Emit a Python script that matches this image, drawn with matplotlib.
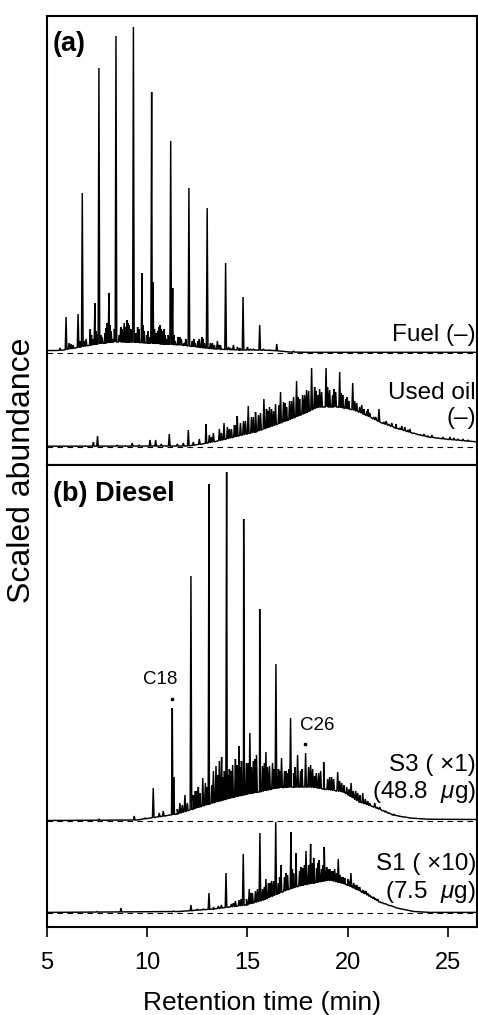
import numpy as np
import matplotlib
matplotlib.use("Agg")
import matplotlib.pyplot as plt

plt.rcParams["font.family"] = ["Liberation Sans", "DejaVu Sans"]
plt.rcParams["mathtext.fontset"] = "custom"
plt.rcParams["mathtext.rm"] = "Liberation Sans"
plt.rcParams["mathtext.it"] = "Liberation Sans:italic"

# ---- (a) Fuel: envelope of the unresolved hump, major and minor peaks (min, abundance)
fuel_env_t = [5.0, 5.5, 5.85, 6.66, 7.5, 8.33, 9.16, 10.0, 10.8, 11.65, 12.48, 13.3, 14.63, 15.5, 16.3, 17.1, 18.0, 26.5]
fuel_env_h = [2.5, 2.5, 3, 6, 9, 11, 11, 10, 9, 8, 6, 4, 3, 3, 2.5, 1, 0.7, 0.7]
fuel_pk_t = [5.65, 5.95, 6.1, 6.3, 6.55, 6.65, 6.76, 6.95, 7.16, 7.28, 7.39, 7.48, 7.59, 7.75,
             7.9, 8.0, 8.09, 8.2, 8.3, 8.44, 8.6, 8.75, 8.85, 8.99, 9.1, 9.31, 9.45, 9.58,
             9.74, 9.85, 10.0, 10.1, 10.22, 10.29, 10.45, 10.6, 10.7, 10.8, 10.9, 11.0,
             11.17, 11.27, 11.4, 11.55, 11.7, 11.85, 12.08, 12.25, 12.4, 12.6, 12.73, 12.85,
             12.99, 13.15, 13.35, 13.5, 13.65, 13.91, 14.05, 14.3, 14.5, 14.78, 15.0, 15.3,
             15.61, 15.8, 16.1, 16.46, 17.3]
fuel_pk_h = [5, 36, 10, 8, 39, 12, 160, 14, 24, 14, 50, 18, 285, 16,
             20, 30, 60, 22, 14, 317, 18, 24, 30, 33, 28, 326, 20, 24,
             80, 22, 18, 16, 261, 71, 20, 26, 24, 22, 18, 14,
             212, 65, 12, 16, 14, 10, 165, 12, 10, 14, 16, 10,
             145, 10, 8, 12, 8, 90, 6, 8, 6, 56, 6, 4,
             28, 4, 3, 9, 2]
fuel_minor_t = [6.2, 6.85, 7.22, 7.44, 7.68, 7.95, 8.15, 8.36, 8.68, 8.93, 9.05, 9.18, 9.52,
                9.8, 10.05, 10.36, 10.52, 10.65, 10.85, 11.05, 11.33, 11.62, 11.92, 12.32,
                12.54, 12.79, 13.25, 13.58, 14.15, 14.62, 15.15]
fuel_minor_h = [9, 12, 18, 22, 18, 25, 28, 24, 26, 26, 30, 24, 26,
                28, 22, 24, 22, 28, 24, 18, 18, 16, 14, 14,
                12, 14, 10, 8, 5, 5, 4]

# ---- (a) Used oil
oil_env_t = [5.0, 12.0, 12.9, 13.75, 14.55, 15.4, 16.25, 17.05, 17.9, 18.5, 19.5, 20.3, 20.8, 21.6, 22.4, 23.2, 24.05, 24.85, 26.5]
oil_env_h = [0.8, 1, 3.5, 7, 11, 15, 21, 27, 34, 40, 40, 37, 33, 25, 19, 14, 10, 8, 5]
oil_pk_t = [7.31, 7.52, 8.5, 9.25, 9.6, 10.14, 10.42, 10.7, 11.1, 11.5, 11.8, 12.05, 12.3, 12.6,
            12.93, 13.1, 13.3, 13.6, 13.83, 14.0, 14.2, 14.35, 14.49, 14.65, 14.8, 15.04, 15.2,
            15.4, 15.55, 15.82, 15.95, 16.1, 16.3, 16.4, 16.65, 16.8, 16.95, 17.1, 17.3, 17.45,
            17.6, 17.75, 17.95, 18.2, 18.35, 18.5, 18.7, 18.92, 19.1, 19.25, 19.4, 19.6, 19.75,
            19.9, 20.05, 20.25, 20.45, 20.6, 20.8, 20.95, 21.1, 21.3, 21.56, 21.8, 22.05, 22.4,
            22.6, 22.85, 23.0, 23.3, 23.6, 24.0, 24.5, 25.1, 25.3, 25.75]
oil_pk_h = [5, 11, 2, 4, 2, 7, 7, 3, 13, 3, 4, 17, 5, 8,
            23, 12, 14, 18, 24, 20, 18, 22, 31, 24, 26, 41, 30,
            35, 32, 48, 38, 40, 36, 43, 55, 45, 40, 46, 50, 66,
            48, 52, 57, 79, 60, 52, 55, 79, 57, 52, 55, 75, 52,
            48, 46, 64, 44, 40, 38, 36, 34, 30, 38, 25, 23, 23,
            19, 20, 17, 14, 12, 11, 9, 10, 9, 8]
oil_minor_t = [13.2, 13.7, 14.1, 14.42, 14.9, 15.3, 15.65, 16.02, 16.2, 16.57, 16.88, 17.2,
               17.53, 17.85, 18.05, 18.42, 18.6, 19.0, 19.32, 19.68, 19.98, 20.35, 20.7, 21.02,
               21.4, 21.92, 22.2, 22.7, 23.1, 23.8, 24.2, 24.75, 25.5, 26.0]
oil_minor_h = [10, 14, 18, 22, 26, 30, 34, 36, 38, 42, 44, 46,
               50, 52, 56, 56, 58, 60, 58, 54, 50, 46, 42, 38,
               30, 26, 24, 21, 18, 13, 12, 10, 8, 7]

# ---- (b) Diesel, sample S3 (x1)
s3_env_t = [5.0, 9.5, 10.5, 11.5, 12.3, 13.1, 14.0, 14.8, 15.6, 16.5, 17.3, 18.1, 18.8, 19.8, 20.6, 21.45, 22.25, 23.1, 24.0, 26.5]
s3_env_h = [0.5, 1, 4, 7, 12, 17, 22, 26, 29, 33, 34, 34, 32, 29, 19, 13, 6, 3, 1.8, 1.5]
s3_pk_t = [7.6, 9.35, 9.9, 10.3, 10.6, 10.8, 11.25, 11.32, 11.5, 11.63, 11.88, 12.0, 12.18, 12.4,
           12.55, 12.77, 12.9, 13.08, 13.3, 13.43, 13.6, 13.71, 13.85, 13.96, 14.1, 14.26, 14.4,
           14.58, 14.7, 14.81, 14.95, 15.12, 15.3, 15.45, 15.61, 15.75, 15.92, 16.1, 16.25,
           16.42, 16.55, 16.7, 16.85, 17.0, 17.15, 17.3, 17.5, 17.65, 17.9, 18.15, 18.35,
           18.55, 18.8, 19.0, 19.2, 19.5, 19.7, 19.95, 20.17, 20.4, 20.6, 20.75, 21.0, 21.35,
           21.6, 21.9, 22.3, 22.8]
s3_pk_h = [2, 5, 3, 33, 8, 10, 113, 44, 12, 18, 26, 18, 245, 30,
           34, 43, 38, 337, 50, 55, 60, 64, 50, 349, 52, 56, 62,
           75, 60, 302, 58, 88, 60, 66, 212, 55, 69, 55, 58,
           157, 52, 63, 50, 48, 103, 48, 66, 50, 68, 56, 45,
           48, 59, 42, 44, 49, 38, 34, 38, 30, 26, 28, 20, 18,
           14, 10, 7, 4]
s3_minor_t = [11.75, 12.3, 12.47, 12.62, 12.98, 13.22, 13.52, 13.78, 14.03, 14.17, 14.47, 14.65,
              15.03, 15.2, 15.37, 15.84, 16.0, 16.33, 16.62, 16.93, 17.07, 17.37, 17.72, 18.05,
              18.25, 18.43, 18.65, 19.1, 19.3, 19.6, 19.8, 20.07, 20.28, 20.5, 20.88, 21.1,
              21.45, 21.75, 22.05]
s3_minor_h = [16, 26, 30, 28, 34, 36, 46, 44, 46, 50, 56, 54,
              58, 54, 62, 58, 54, 52, 50, 50, 52, 54, 52, 54,
              52, 48, 50, 44, 42, 40, 36, 32, 30, 28, 22, 18,
              14, 10, 8]

# ---- (b) Diesel, sample S1 (x10)
s1_env_t = [5.0, 11.6, 13.3, 14.1, 14.95, 15.8, 16.6, 17.4, 18.3, 19.1, 20.0, 20.8, 21.6, 22.45, 23.3, 24.1, 26.5]
s1_env_h = [0.6, 1.5, 4, 6, 8, 13, 20, 26, 30, 33, 28, 20, 11, 5, 1.5, 0.6, 0.6]
s1_pk_t = [7.5, 8.69, 10.3, 11.3, 12.18, 12.5, 12.8, 13.08, 13.3, 13.55, 13.7, 13.93, 14.2, 14.4,
           14.58, 14.79, 14.95, 15.09, 15.25, 15.4, 15.62, 15.75, 15.92, 16.05, 16.2, 16.41,
           16.55, 16.67, 16.85, 17.0, 17.17, 17.3, 17.42, 17.6, 17.75, 17.92, 18.05, 18.15,
           18.3, 18.45, 18.58, 18.7, 18.83, 18.95, 19.1, 19.25, 19.35, 19.53, 19.7, 19.85,
           20.0, 20.16, 20.3, 20.45, 20.6, 20.75, 20.9, 21.1, 21.3, 21.5, 21.7]
s1_pk_h = [1.5, 5, 1.5, 2, 8, 4, 4, 20, 6, 7, 8, 40, 9, 12,
           13, 59, 14, 24, 20, 22, 80, 24, 34, 30, 32, 91,
           30, 48, 36, 38, 81, 40, 60, 42, 45, 62, 48, 69,
           55, 45, 53, 44, 66, 46, 44, 42, 44, 54, 36, 35,
           34, 40, 30, 28, 26, 23, 22, 18, 16, 14, 10]
s1_minor_t = [14.3, 14.68, 15.17, 15.5, 15.84, 16.12, 16.3, 16.6, 16.92, 17.24, 17.68, 17.84,
              18.22, 18.52, 18.77, 19.02, 19.18, 19.45, 19.62, 19.78, 20.08, 20.38, 20.52, 20.82,
              21.0, 21.2, 21.4, 21.6, 21.85, 22.1]
s1_minor_h = [10, 14, 20, 24, 26, 30, 32, 36, 40, 44, 46, 48,
              50, 50, 48, 44, 42, 40, 38, 36, 32, 28, 26, 22,
              20, 16, 14, 11, 8, 6]

xticks = [5, 10, 15, 20, 25]
xmin, xmax = 5, 26.45


def build_trace(env_t, env_h, pk_t, pk_h, hw=0.04):
    t = list(env_t)
    h = list(env_h)
    for pt, ph in zip(pk_t, pk_h):
        b = float(np.interp(pt, env_t, env_h))
        t += [pt - hw, pt, pt + hw]
        h += [b, max(ph, b), b]
    order = np.argsort(t, kind="stable")
    return np.asarray(t)[order], np.asarray(h)[order]


fig = plt.figure(figsize=(4.78, 10.15), dpi=100)
ax_a = fig.add_axes([47 / 478, 1 - 465 / 1015, 430 / 478, 449 / 1015])
ax_b = fig.add_axes([47 / 478, 1 - 927 / 1015, 430 / 478, 462 / 1015])

trace_kw = dict(color="black", lw=1.05, solid_joinstyle="miter")
base_kw = dict(color="black", lw=0.8, ls=(0, (5, 4)))

traces_a = [(112, fuel_env_t, fuel_env_h, fuel_pk_t + fuel_minor_t, fuel_pk_h + fuel_minor_h),
            (18, oil_env_t, oil_env_h, oil_pk_t + oil_minor_t, oil_pk_h + oil_minor_h)]
s3_base, s1_base = 106, 14
traces_b = [(s3_base, s3_env_t, s3_env_h, s3_pk_t + s3_minor_t, s3_pk_h + s3_minor_h),
            (s1_base, s1_env_t, s1_env_h, s1_pk_t + s1_minor_t, s1_pk_h + s1_minor_h)]

for ax, traces in ((ax_a, traces_a), (ax_b, traces_b)):
    for base, et, eh, pt, ph in traces:
        ax.axhline(base, **base_kw)
        t, h = build_trace(et, eh, pt, ph)
        ax.plot(t, base + h, **trace_kw)
ax_a.set_ylim(0, 449)
ax_b.set_ylim(0, 462)

for ax in (ax_a, ax_b):
    ax.set_xlim(xmin, xmax)
    ax.set_yticks([])
    for s in ax.spines.values():
        s.set_linewidth(1.5)
ax_a.set_xticks([])
ax_b.set_xticks(xticks)
ax_b.set_xticklabels([str(v) for v in xticks])
ax_b.tick_params(axis="x", direction="out", length=7, width=1.2, pad=11, labelsize=17)

# carbon-number markers
for ct, ch, name, tx in [(11.25, 113, "C18", 10.66), (17.9, 68, "C26", 18.49)]:
    ax_b.plot(ct - 0.02, s3_base + ch + 9, "s", ms=1.6, color="black")
    ax_b.text(tx, s3_base + ch + 28, name, ha="center", va="center", fontsize=13.5)

lab = dict(ha="right", va="center", fontsize=17.5)
ax_a.text(26.4, 465 - 335, "Fuel (–)", **lab)
ax_a.text(26.4, 465 - 393, "Used oil", **lab)
ax_a.text(26.4, 465 - 418, "(–)", **lab)
ax_b.text(26.4, 927 - 765, "S3 ( ×1)", **lab)
ax_b.text(26.4, 927 - 792, "(48.8  $\\mathit{\\mu}$g)", **lab)
ax_b.text(26.4, 927 - 864, "S1 ( ×10)", **lab)
ax_b.text(26.4, 927 - 892, "(7.5  $\\mathit{\\mu}$g)", **lab)

ax_a.text(5.3, 465 - 44, "(a)", ha="left", va="center", fontsize=19.5, fontweight="bold")
ax_b.text(5.3, 927 - 494, "(b) Diesel", ha="left", va="center", fontsize=19.5, fontweight="bold")

fig.text(22 / 478, 1 - 470 / 1015, "Scaled abundance", rotation=90, ha="center", va="center", fontsize=23)
fig.text(262 / 478, 1 - 1003 / 1015, "Retention time (min)", ha="center", va="center", fontsize=19)

fig.savefig("out.png", dpi=100)
